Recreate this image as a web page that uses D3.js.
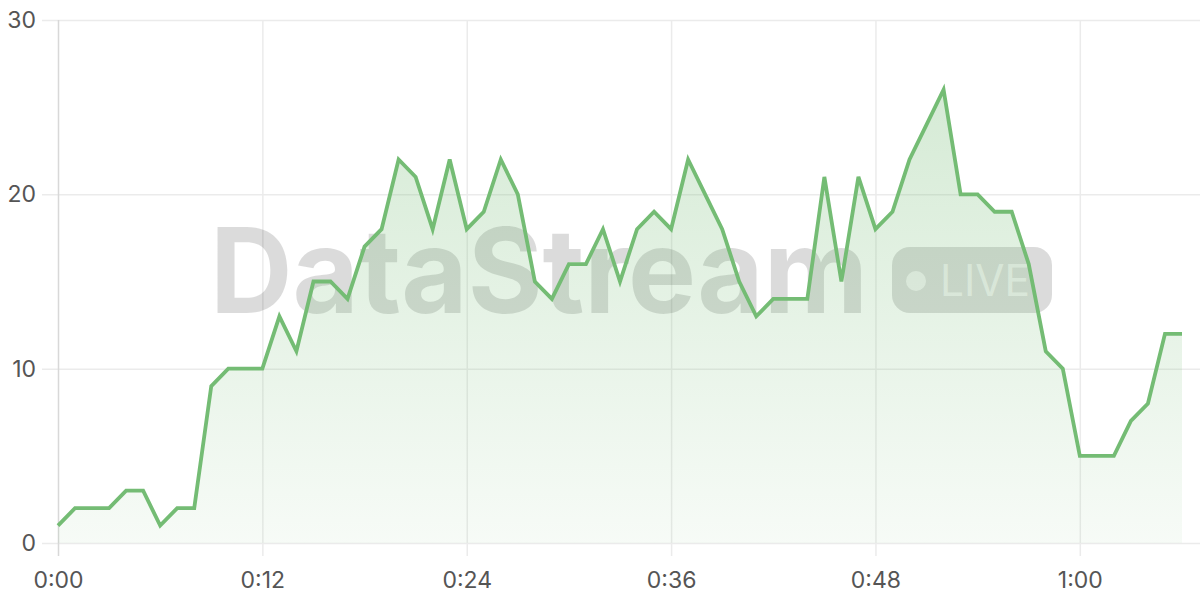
<!DOCTYPE html>
<html>
<head>
<meta charset="utf-8">
<script src="https://cdn.jsdelivr.net/npm/d3@7"></script>
<style>
  html, body { margin: 0; padding: 0; background: #fff; }
  svg { display: block; font-family: Inter, "Noto Sans", sans-serif; }
</style>
</head>
<body>
<div id="vis-container"></div>
<script>
// minutes since start, one sample per minute
const minutes = d3.range(0, 67);
const counts = [
  1, 2, 2, 2, 3, 3, 1, 2, 2, 9,
  10, 10, 10, 13, 11, 15, 15, 14, 17, 18,
  22, 21, 18, 22, 18, 19, 22, 20, 15, 14,
  16, 16, 18, 15, 18, 19, 18, 22, 20, 18,
  15, 13, 14, 14, 14, 21, 15, 21, 18, 19,
  22, 24, 26, 20, 20, 19, 19, 16, 11, 10,
  5, 5, 5, 7, 8, 12, 12
];
const xTicks = [0, 12, 24, 36, 48, 60];
const yTicks = [0, 10, 20, 30];
const watermark = "DataStream";
const badge = "LIVE";

const width = 1200;
const height = 600;

const svg = d3.select("#vis-container")
  .append("svg")
  .attr("width", width)
  .attr("height", height);

const data = minutes.map((m, i) => ({ m: m, v: counts[i] }));

const x = d3.scaleLinear().domain([0, 66]).range([58, 1182]);
const y = d3.scaleLinear().domain([0, 30]).range([543, 20]);

const fmt = (m) => `${Math.floor(m / 60)}:${String(m % 60).padStart(2, "0")}`;

// gradient for the area
const grad = svg.append("defs").append("linearGradient")
  .attr("id", "fillGrad")
  .attr("gradientUnits", "userSpaceOnUse")
  .attr("x1", 0).attr("x2", 0)
  .attr("y1", y(26)).attr("y2", y(0));
grad.append("stop").attr("offset", 0).attr("stop-color", "#74bb74").attr("stop-opacity", 0.3);
grad.append("stop").attr("offset", 1).attr("stop-color", "#74bb74").attr("stop-opacity", 0.06);

// horizontal grid + y labels
const yAxis = svg.append("g")
  .attr("transform", `translate(58,0)`)
  .call(d3.axisLeft(y).tickValues(yTicks).tickSize(16).tickPadding(8));
yAxis.select(".domain").remove();
yAxis.selectAll(".tick line")
  .attr("x2", width - 58)
  .attr("x1", -16)
  .attr("stroke", "#ebebeb")
  .attr("stroke-width", 1.5);
yAxis.selectAll(".tick text")
  .attr("x", -22)
  .attr("font-size", 23)
  .attr("fill", "#555")
  .attr("font-family", "Inter, 'Noto Sans', sans-serif");

// vertical grid + x labels
const xAxis = svg.append("g")
  .attr("transform", `translate(0,${y(0)})`)
  .call(d3.axisBottom(x).tickValues(xTicks).tickFormat(fmt).tickSize(13).tickPadding(16));
xAxis.select(".domain").remove();
xAxis.selectAll(".tick line")
  .attr("y1", y(30) - y(0))
  .attr("y2", 13)
  .attr("stroke", (d) => d === 0 ? "#d8d8d8" : "#ebebeb")
  .attr("stroke-width", 1.5);
xAxis.selectAll(".tick text")
  .attr("font-size", 23)
  .attr("fill", "#555")
  .attr("font-family", "Inter, 'Noto Sans', sans-serif");

// watermark
const wm = svg.append("g").attr("pointer-events", "none");
wm.append("text")
  .attr("x", 210)
  .attr("y", 313)
  .attr("font-size", 118)
  .attr("font-weight", 700)
  .attr("font-family", "Inter, 'Noto Sans', sans-serif")
  .attr("textLength", 658)
  .attr("lengthAdjust", "spacingAndGlyphs")
  .attr("fill", "#000")
  .attr("fill-opacity", 0.14)
  .text(watermark);
wm.append("rect")
  .attr("x", 892).attr("y", 247)
  .attr("width", 160).attr("height", 66)
  .attr("rx", 18)
  .attr("fill", "#000")
  .attr("fill-opacity", 0.14);
wm.append("circle")
  .attr("cx", 916).attr("cy", 281).attr("r", 10)
  .attr("fill", "#fff").attr("fill-opacity", 0.65);
wm.append("text")
  .attr("x", 940)
  .attr("y", 296)
  .attr("font-size", 44)
  .attr("font-family", "Inter, 'Noto Sans', sans-serif")
  .attr("textLength", 90)
  .attr("lengthAdjust", "spacingAndGlyphs")
  .attr("fill", "#fff")
  .attr("fill-opacity", 0.65)
  .text(badge);

// area + line
svg.append("path")
  .datum(data)
  .attr("fill", "url(#fillGrad)")
  .attr("d", d3.area()
    .x((d) => x(d.m))
    .y0(y(0))
    .y1((d) => y(d.v)));

svg.append("path")
  .datum(data)
  .attr("fill", "none")
  .attr("stroke", "#74bc74")
  .attr("stroke-width", 3.8)
  .attr("stroke-linejoin", "miter")
  .attr("d", d3.line()
    .x((d) => x(d.m))
    .y((d) => y(d.v)));
</script>
</body>
</html>
